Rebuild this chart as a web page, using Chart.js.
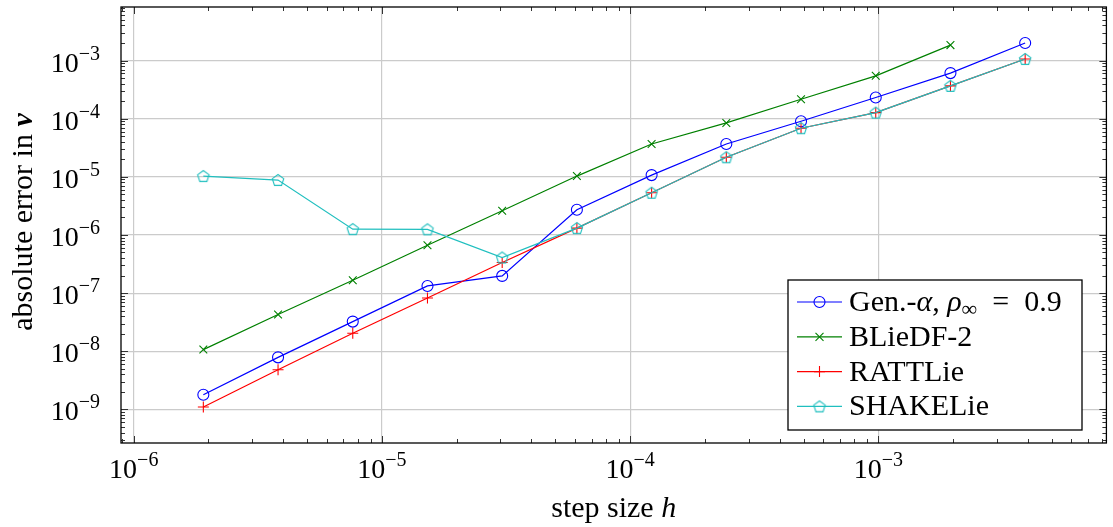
<!DOCTYPE html>
<html>
<head>
<meta charset="utf-8">
<script src="https://cdn.jsdelivr.net/npm/chart.js@4.4.1/dist/chart.umd.min.js"></script>
<style>
html, body { margin: 0; padding: 0; background: #fff; }
canvas { display: block; }
</style>
</head>
<body>
<canvas id="chart" width="1113" height="527"></canvas>
<script>
// step sizes h = 2^-19 ... 2^-8
const stepSizes = [1.9073e-6, 3.8147e-6, 7.6294e-6, 1.5259e-5, 3.0518e-5, 6.1035e-5,
                   1.2207e-4, 2.4414e-4, 4.8828e-4, 9.7656e-4, 1.9531e-3, 3.9063e-3];

const genAlpha = [1.79e-9, 7.87e-9, 3.24e-8, 1.33e-7, 1.98e-7, 2.71e-6,
                  1.07e-5, 3.67e-5, 9.04e-5, 2.31e-4, 6.07e-4, 2.0e-3];
const blieDF2  = [1.07e-8, 4.28e-8, 1.67e-7, 6.68e-7, 2.61e-6, 1.03e-5,
                  3.67e-5, 8.45e-5, 2.16e-4, 5.45e-4, 1.84e-3];
const rattLie  = [1.10e-9, 4.83e-9, 2.04e-8, 8.26e-8, 3.37e-7, 1.31e-6,
                  5.32e-6, 2.17e-5, 6.85e-5, 1.27e-4, 3.66e-4, 1.06e-3];
const shakeLie = [1.03e-5, 8.81e-6, 1.26e-6, 1.25e-6, 4.10e-7, 1.31e-6,
                  5.32e-6, 2.17e-5, 6.85e-5, 1.27e-4, 3.66e-4, 1.06e-3];

const seriesNames = ["Gen.-α", "BLieDF-2", "RATTLie", "SHAKELie"];
const xTicks = [1e-6, 1e-5, 1e-4, 1e-3];
const yTicks = [1e-9, 1e-8, 1e-7, 1e-6, 1e-5, 1e-4, 1e-3];
const xTitle = "step size ";
const yTitle = "absolute error in ";

const SERIF = "'Liberation Serif', 'DejaVu Serif', serif";
const BLUE = "#0000ff", GREEN = "#008000", RED = "#ff0000", CYAN = "#20bfbf";

// pentagon marker (not a built-in point style)
const pentagon = document.createElement("canvas");
pentagon.width = 16; pentagon.height = 16;
(function () {
  const c = pentagon.getContext("2d");
  c.strokeStyle = CYAN; c.lineWidth = 1.1;
  c.beginPath();
  for (let k = 0; k < 5; k++) {
    const a = -Math.PI / 2 + k * 2 * Math.PI / 5;
    const px = 8 + 6 * Math.cos(a), py = 8.5 + 6 * Math.sin(a);
    if (k === 0) c.moveTo(px, py); else c.lineTo(px, py);
  }
  c.closePath();
  c.stroke();
})();

function points(vals) {
  return vals.map((y, i) => ({ x: stepSizes[i], y }));
}

// order: later series drawn on top, like pgfplots
function series(label, vals, color, style, order) {
  return {
    label,
    data: points(vals),
    order,
    showLine: true,
    borderColor: color,
    borderWidth: 1.2,
    pointStyle: style,
    pointRadius: 5.5,
    pointBorderColor: color,
    pointBorderWidth: 1.1,
    pointBackgroundColor: "rgba(0,0,0,0)",
    tension: 0
  };
}

function logTicks(min, max) {
  const out = [];
  for (let e = Math.floor(Math.log10(min)); e <= Math.ceil(Math.log10(max)); e++) {
    for (let k = 1; k <= 9; k++) {
      const v = k * Math.pow(10, e);
      if (v >= min && v <= max) out.push({ v, major: k === 1 });
    }
  }
  return out;
}

// text made of runs with different fonts / offsets
function runsWidth(ctx, runs) {
  let w = 0;
  runs.forEach(r => { ctx.font = r.font; w += ctx.measureText(r.text).width; });
  return w;
}
function drawRuns(ctx, runs, x, y) {
  ctx.textAlign = "left";
  ctx.textBaseline = "alphabetic";
  runs.forEach(r => {
    ctx.font = r.font;
    ctx.fillText(r.text, x, y + (r.dy || 0));
    x += ctx.measureText(r.text).width;
  });
}
function powerRuns(v) {
  const e = Math.round(Math.log10(v));
  return [
    { text: "10", font: "28px " + SERIF },
    { text: "−" + Math.abs(e), font: "20px " + SERIF, dy: -12 }
  ];
}

function drawMarker(ctx, style, x, y, color) {
  ctx.strokeStyle = color;
  ctx.lineWidth = 1.1;
  ctx.beginPath();
  if (style === "circle") {
    ctx.arc(x, y, 5.5, 0, 2 * Math.PI);
  } else if (style === "crossRot") {
    ctx.moveTo(x - 4, y - 4); ctx.lineTo(x + 4, y + 4);
    ctx.moveTo(x - 4, y + 4); ctx.lineTo(x + 4, y - 4);
  } else if (style === "cross") {
    ctx.moveTo(x - 5.5, y); ctx.lineTo(x + 5.5, y);
    ctx.moveTo(x, y - 5.5); ctx.lineTo(x, y + 5.5);
  } else {
    ctx.drawImage(style, x - 8, y - 8);
    return;
  }
  ctx.stroke();
}

const axesPlugin = {
  id: "pgfAxes",
  afterDatasetsDraw(chart) {
    const { ctx, chartArea: a, scales } = chart;
    const xs = scales.x, ys = scales.y;
    ctx.save();

    // inner ticks, all four sides
    ctx.strokeStyle = "#333";
    ctx.lineWidth = 1;
    ctx.beginPath();
    logTicks(xs.min, xs.max).forEach(t => {
      const px = Math.round(xs.getPixelForValue(t.v)) + 0.5;
      const len = t.major ? 7 : 4;
      ctx.moveTo(px, a.bottom); ctx.lineTo(px, a.bottom - len);
      ctx.moveTo(px, a.top); ctx.lineTo(px, a.top + len);
    });
    logTicks(ys.min, ys.max).forEach(t => {
      const py = Math.round(ys.getPixelForValue(t.v)) + 0.5;
      const len = t.major ? 7 : 4;
      ctx.moveTo(a.left, py); ctx.lineTo(a.left + len, py);
      ctx.moveTo(a.right, py); ctx.lineTo(a.right - len, py);
    });
    ctx.stroke();

    // frame
    ctx.strokeStyle = "#000";
    ctx.lineWidth = 1.3;
    ctx.strokeRect(a.left, a.top, a.right - a.left, a.bottom - a.top);

    // tick labels
    ctx.fillStyle = "#000";
    xTicks.forEach(v => {
      const runs = powerRuns(v);
      const w = runsWidth(ctx, runs);
      drawRuns(ctx, runs, xs.getPixelForValue(v) - w / 2, a.bottom + 35);
    });
    yTicks.forEach(v => {
      const runs = powerRuns(v);
      const w = runsWidth(ctx, runs);
      drawRuns(ctx, runs, 100 - w, ys.getPixelForValue(v) + 11);
    });

    // axis titles
    const xRuns = [
      { text: xTitle, font: "30px " + SERIF },
      { text: "h", font: "italic 30px " + SERIF }
    ];
    const xw = runsWidth(ctx, xRuns);
    drawRuns(ctx, xRuns, (a.left + a.right) / 2 - xw / 2, 517);

    const yRuns = [
      { text: yTitle, font: "30px " + SERIF },
      { text: "v", font: "italic bold 30px " + SERIF }
    ];
    const yw = runsWidth(ctx, yRuns);
    ctx.translate(32, 222);
    ctx.rotate(-Math.PI / 2);
    drawRuns(ctx, yRuns, -yw / 2, 0);
    ctx.restore();
  },
  afterDraw(chart) {
    const ctx = chart.ctx;
    const sets = chart.data.datasets;
    ctx.save();
    // legend box
    ctx.fillStyle = "#fff";
    ctx.fillRect(788, 280, 294, 150);
    ctx.strokeStyle = "#000";
    ctx.lineWidth = 1.3;
    ctx.strokeRect(788, 280, 294, 150);

    const labels = [
      [
        { text: "Gen.-", font: "30px " + SERIF },
        { text: "α", font: "italic 30px " + SERIF },
        { text: ", ", font: "30px " + SERIF },
        { text: "ρ", font: "italic 30px " + SERIF },
        { text: "∞", font: "22px " + SERIF, dy: 5 },
        { text: "\u2002=\u2002", font: "30px " + SERIF },
        { text: "0.9", font: "30px " + SERIF }
      ],
      [{ text: seriesNames[1], font: "30px " + SERIF }],
      [{ text: seriesNames[2], font: "30px " + SERIF }],
      [{ text: seriesNames[3], font: "30px " + SERIF }]
    ];
    sets.forEach((ds, i) => {
      const y = 302 + i * 34.8;
      ctx.strokeStyle = ds.borderColor;
      ctx.lineWidth = 1.2;
      ctx.beginPath();
      ctx.moveTo(797, y); ctx.lineTo(842, y);
      ctx.stroke();
      drawMarker(ctx, ds.pointStyle, 819.5, y, ds.borderColor);
      ctx.fillStyle = "#000";
      drawRuns(ctx, labels[i], 849, y + 9);
    });
    ctx.restore();
  }
};

new Chart(document.getElementById("chart"), {
  type: "scatter",
  data: {
    datasets: [
      series(seriesNames[0], genAlpha, BLUE, "circle", 4),
      series(seriesNames[1], blieDF2, GREEN, "crossRot", 3),
      series(seriesNames[2], rattLie, RED, "cross", 2),
      series(seriesNames[3], shakeLie, CYAN, pentagon, 1)
    ]
  },
  options: {
    responsive: false,
    animation: false,
    devicePixelRatio: 1,
    layout: { padding: { left: 121, top: 7, right: 3, bottom: 84 } },
    plugins: { legend: { display: false }, tooltip: { enabled: false } },
    scales: {
      x: {
        type: "logarithmic",
        min: 8.885e-7,
        max: 8.30e-3,
        afterBuildTicks: s => { s.ticks = xTicks.map(v => ({ value: v })); },
        ticks: { display: false },
        grid: { color: "#cbcbcb", lineWidth: 1.2, drawTicks: false },
        border: { display: false }
      },
      y: {
        type: "logarithmic",
        min: 2.65e-10,
        max: 8.32e-3,
        afterBuildTicks: s => { s.ticks = yTicks.map(v => ({ value: v })); },
        ticks: { display: false },
        grid: { color: "#cbcbcb", lineWidth: 1.2, drawTicks: false },
        border: { display: false }
      }
    }
  },
  plugins: [axesPlugin]
});
</script>
</body>
</html>
